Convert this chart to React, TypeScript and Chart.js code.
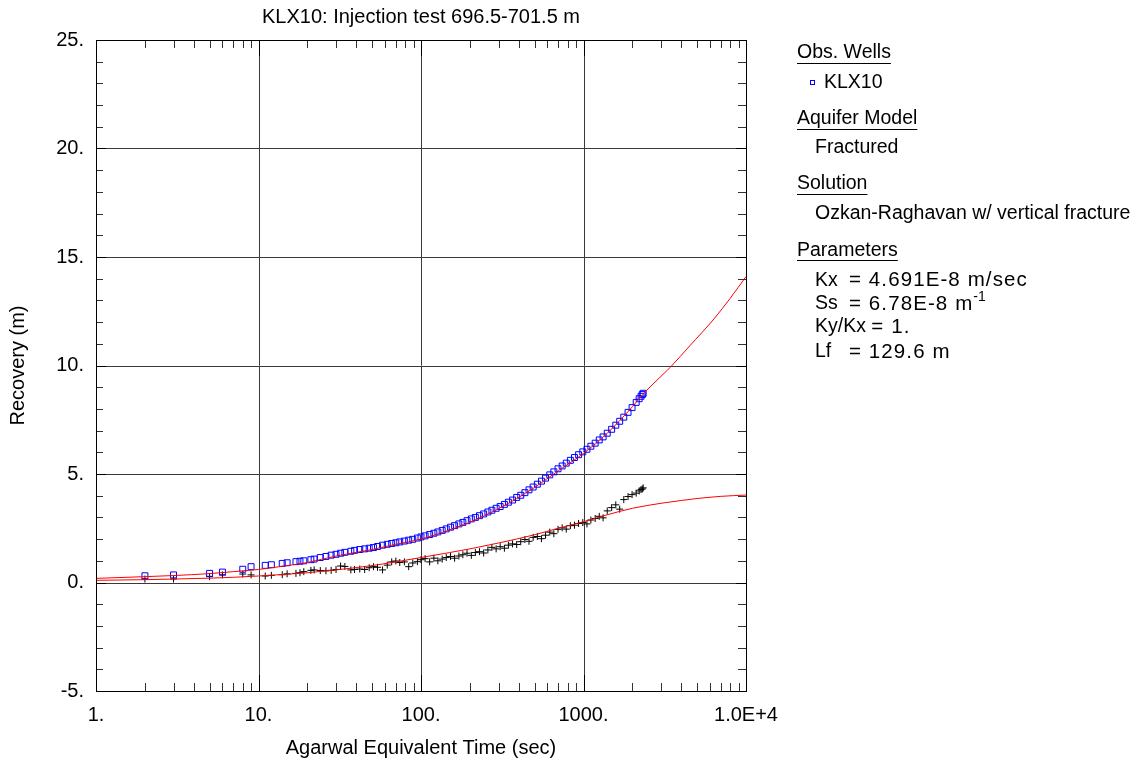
import React, { useEffect, useRef } from 'react';
import { Chart, registerables } from 'chart.js';

Chart.register(...registerables);

const FONT = '"Liberation Sans", Arial, sans-serif';

const TITLE = 'KLX10: Injection test 696.5-701.5 m';
const X_TITLE = 'Agarwal Equivalent Time (sec)';
const Y_TITLE = 'Recovery (m)';

const X_TICKS = [1, 10, 100, 1000, 10000];
const X_TICK_LABELS = ['1.', '10.', '100.', '1000.', '1.0E+4'];
const X_MINOR_MULTIPLIERS = [2, 3, 4, 5, 6, 7, 8, 9];
const Y_TICKS = [-5, 0, 5, 10, 15, 20, 25];
const Y_TICK_LABELS = ['-5.', '0.', '5.', '10.', '15.', '20.', '25.'];
const Y_MINOR_STEP = 1;

// observation times (sec)
const TIMES = [
  2, 3, 5, 6, 8, 9,
  11, 12, 14, 15, 17, 18, 19,
  21, 22, 24, 26, 28, 30, 32, 34, 37, 39,
  42, 45, 48, 51, 54, 58, 62, 66, 70, 74, 79, 84, 89, 95,
  100, 106, 113, 120, 127, 135, 143, 152, 161, 171, 181, 192,
  204, 216, 229, 243, 258, 273, 290, 307, 326, 345, 366, 388,
  411, 436, 462, 490, 520, 551, 584, 620, 657, 697, 739, 783, 830, 880, 933, 990,
  1050, 1110, 1180, 1250, 1320, 1400, 1490, 1580, 1670, 1770, 1880, 1990,
  2110, 2200, 2260, 2300, 2330,
];

// KLX10 recovery (m) - blue squares
const KLX10_VALUES = [
  0.31, 0.35, 0.42, 0.48, 0.61, 0.73,
  0.79, 0.82, 0.88, 0.91, 0.96, 0.98, 1.0,
  1.05, 1.08, 1.15, 1.2, 1.26, 1.3, 1.35, 1.39, 1.44, 1.48,
  1.52, 1.55, 1.58, 1.61, 1.66, 1.72, 1.76, 1.8, 1.83, 1.87, 1.91, 1.95, 1.99, 2.05,
  2.1, 2.15, 2.21, 2.27, 2.33, 2.4, 2.47, 2.55, 2.62, 2.7, 2.77, 2.85,
  2.93, 3.0, 3.08, 3.16, 3.25, 3.33, 3.42, 3.5, 3.6, 3.7, 3.8, 3.92,
  4.02, 4.14, 4.27, 4.4, 4.53, 4.67, 4.81, 4.96, 5.1, 5.24, 5.37, 5.5, 5.63, 5.76, 5.89, 6.02,
  6.14, 6.28, 6.42, 6.57, 6.71, 6.88, 7.06, 7.25, 7.43, 7.62, 7.84, 8.06,
  8.3, 8.47, 8.58, 8.66, 8.72,
];

// second recovery series (m) - black crosses
const SECOND_VALUES = [
  0.16, 0.16, 0.27, 0.35, 0.39, 0.35,
  0.3, 0.33, 0.36, 0.4, 0.42, 0.45, 0.5,
  0.56, 0.58, 0.55, 0.54, 0.56, 0.6, 0.76, 0.74, 0.58, 0.6,
  0.62, 0.6, 0.68, 0.73, 0.7, 0.58, 0.8, 0.95, 0.99, 0.92, 0.95, 0.73, 0.9, 0.96,
  1.05, 1.1, 0.95, 1.12, 1.0, 1.08, 1.15, 1.2, 1.12, 1.22, 1.28, 1.35,
  1.25, 1.38, 1.42, 1.36, 1.5, 1.62, 1.55, 1.65, 1.58, 1.72, 1.78, 1.75,
  1.88, 1.98, 1.9, 2.08, 2.12, 2.02, 2.18, 2.32, 2.25, 2.45, 2.52, 2.46, 2.62, 2.64, 2.72, 2.76,
  2.7, 2.88, 2.95, 3.05, 2.98, 3.3, 3.45, 3.58, 3.38, 3.82, 3.96, 4.05,
  4.12, 4.22, 4.28, 4.31, 4.36,
];

// fitted curves
const FIT_UPPER_TIMES = [1, 2, 3, 5, 7, 10, 15, 20, 30, 50, 70, 100, 150, 200, 300, 500, 700, 1000, 1400, 2000, 2355, 3133, 3443, 4500, 6357, 8000, 10000];
const FIT_UPPER_VALUES = [0.19, 0.27, 0.32, 0.41, 0.5, 0.6, 0.78, 0.92, 1.22, 1.52, 1.76, 2.0, 2.42, 2.78, 3.4, 4.38, 5.15, 5.95, 6.88, 8.1, 8.72, 9.64, 9.94, 10.9, 12.15, 13.1, 14.1];
const FIT_LOWER_TIMES = [1, 2, 3, 5, 7, 10, 15, 20, 30, 50, 70, 100, 150, 200, 300, 500, 700, 1000, 1400, 2000, 3000, 4000, 5000, 7000, 10000];
const FIT_LOWER_VALUES = [0.1, 0.13, 0.16, 0.2, 0.24, 0.3, 0.38, 0.45, 0.58, 0.78, 0.95, 1.15, 1.38, 1.55, 1.82, 2.2, 2.5, 2.8, 3.12, 3.42, 3.65, 3.78, 3.87, 3.97, 4.03];

const LEGEND_HEADINGS = ['Obs. Wells', 'Aquifer Model', 'Solution', 'Parameters'];
const LEGEND_WELL = 'KLX10';
const AQUIFER_MODEL = 'Fractured';
const SOLUTION = 'Ozkan-Raghavan w/ vertical fracture';
const PARAM_NAMES = ['Kx', 'Ss', 'Ky/Kx', 'Lf'];
const PARAM_VALUES = ['= 4.691E-8 m/sec', '= 6.78E-8 m', '= 1.', '= 129.6 m'];
const SS_SUPERSCRIPT = '-1';

const zip = (xs: number[], ys: number[]) => xs.map((x, i) => ({ x, y: ys[i] }));

const framePlugin = {
  id: 'frame',
  beforeDatasetsDraw(chart: any) {
    const { ctx, chartArea: a, scales } = chart;
    const xs = scales.x;
    const ys = scales.y;
    ctx.save();
    ctx.strokeStyle = '#3a3a3a';
    ctx.lineWidth = 1;
    ctx.beginPath();
    X_TICKS.slice(1, -1).forEach((v) => {
      const px = Math.round(xs.getPixelForValue(v)) + 0.5;
      ctx.moveTo(px, a.top);
      ctx.lineTo(px, a.bottom);
    });
    Y_TICKS.slice(1, -1).forEach((v) => {
      const py = Math.round(ys.getPixelForValue(v)) + 0.5;
      ctx.moveTo(a.left, py);
      ctx.lineTo(a.right, py);
    });
    ctx.stroke();
    ctx.restore();
  },
  afterDatasetsDraw(chart: any) {
    const { ctx, chartArea: a, scales } = chart;
    const xs = scales.x;
    const ys = scales.y;
    ctx.save();
    ctx.lineWidth = 1;
    ctx.strokeStyle = '#333';
    ctx.beginPath();
    X_TICKS.slice(0, -1).forEach((d) => {
      X_MINOR_MULTIPLIERS.forEach((m) => {
        const px = Math.round(xs.getPixelForValue(d * m)) + 0.5;
        ctx.moveTo(px, a.bottom);
        ctx.lineTo(px, a.bottom - 8);
        ctx.moveTo(px, a.top);
        ctx.lineTo(px, a.top + 8);
      });
    });
    for (let v = Y_TICKS[0]; v <= Y_TICKS[Y_TICKS.length - 1]; v += Y_MINOR_STEP) {
      if (Y_TICKS.includes(v)) continue;
      const py = Math.round(ys.getPixelForValue(v)) + 0.5;
      ctx.moveTo(a.left, py);
      ctx.lineTo(a.left + 7, py);
      ctx.moveTo(a.right, py);
      ctx.lineTo(a.right - 8, py);
    }
    ctx.stroke();
    ctx.strokeStyle = '#000';
    ctx.beginPath();
    X_TICKS.slice(1, -1).forEach((v) => {
      const px = Math.round(xs.getPixelForValue(v)) + 0.5;
      ctx.moveTo(px, a.bottom);
      ctx.lineTo(px, a.bottom - 16);
      ctx.moveTo(px, a.top);
      ctx.lineTo(px, a.top + 16);
    });
    Y_TICKS.slice(1, -1).forEach((v) => {
      const py = Math.round(ys.getPixelForValue(v)) + 0.5;
      ctx.moveTo(a.left, py);
      ctx.lineTo(a.left + 10, py);
      ctx.moveTo(a.right, py);
      ctx.lineTo(a.right - 10, py);
    });
    ctx.stroke();
    ctx.strokeStyle = '#000';
    ctx.strokeRect(Math.round(a.left) + 0.5, Math.round(a.top) + 0.5, Math.round(a.right - a.left), Math.round(a.bottom - a.top));
    ctx.restore();
  },
  afterDraw(chart: any) {
    const { ctx, chartArea: a } = chart;
    ctx.save();
    ctx.fillStyle = '#000';
    ctx.textBaseline = 'middle';
    ctx.textAlign = 'center';
    ctx.font = `20px ${FONT}`;
    ctx.fillText(TITLE, (a.left + a.right) / 2, 17);

    ctx.textAlign = 'left';
    ctx.font = `19.5px ${FONT}`;
    const hx = 797;
    const ix = 815;
    const heading = (t: string, y: number, uy: number) => {
      ctx.fillText(t, hx, y);
      const w = ctx.measureText(t).width;
      ctx.fillRect(hx, uy, w, 1);
    };
    heading(LEGEND_HEADINGS[0], 53, 63);
    ctx.strokeStyle = '#0000ff';
    ctx.lineWidth = 1;
    ctx.strokeRect(810.5, 80.5, 4, 4);
    ctx.fillText(LEGEND_WELL, 824, 83);
    heading(LEGEND_HEADINGS[1], 119, 129);
    ctx.fillText(AQUIFER_MODEL, ix, 147.5);
    heading(LEGEND_HEADINGS[2], 184, 194);
    ctx.fillText(SOLUTION, ix, 214);
    heading(LEGEND_HEADINGS[3], 250.5, 260);
    const rows = [280.5, 304, 327, 352];
    const spacing = '1.1px';
    PARAM_NAMES.forEach((n, i) => {
      ctx.font = `19.5px ${FONT}`;
      ctx.letterSpacing = '0px';
      ctx.fillText(n, ix, rows[i]);
      let vx = 849;
      if (i === 2) vx = ix + ctx.measureText(n + ' ').width;
      ctx.font = `20.5px ${FONT}`;
      ctx.letterSpacing = spacing;
      ctx.fillText(PARAM_VALUES[i], vx, rows[i]);
    });
    ctx.font = `20.5px ${FONT}`;
    ctx.letterSpacing = spacing;
    const sw = ctx.measureText(PARAM_VALUES[1]).width;
    ctx.letterSpacing = '0px';
    ctx.font = `14px ${FONT}`;
    ctx.fillText(SS_SUPERSCRIPT, 849 + sw, 297);
    ctx.restore();
  },
};

export default function App() {
  const ref = useRef<HTMLCanvasElement | null>(null);
  useEffect(() => {
    if (!ref.current) return;
    const tickFont = { size: 20, family: FONT };
    const chart = new Chart(ref.current, {
      type: 'scatter',
      data: {
        datasets: [
          {
            label: 'fit upper',
            data: zip(FIT_UPPER_TIMES, FIT_UPPER_VALUES),
            showLine: true,
            borderColor: '#ff0000',
            borderWidth: 1,
            pointRadius: 0,
            cubicInterpolationMode: 'monotone',
            order: 0,
          },
          {
            label: 'fit lower',
            data: zip(FIT_LOWER_TIMES, FIT_LOWER_VALUES),
            showLine: true,
            borderColor: '#ff0000',
            borderWidth: 1,
            pointRadius: 0,
            cubicInterpolationMode: 'monotone',
            order: 0,
          },
          {
            label: LEGEND_WELL,
            data: zip(TIMES, KLX10_VALUES),
            showLine: false,
            pointStyle: 'rect',
            pointRadius: 4.2,
            borderColor: '#0000ff',
            backgroundColor: 'rgba(0,0,0,0)',
            borderWidth: 1,
            order: 1,
          },
          {
            label: 'second',
            data: zip(TIMES, SECOND_VALUES),
            showLine: false,
            pointStyle: 'cross',
            pointRadius: 3.5,
            borderColor: '#000000',
            borderWidth: 1,
            order: 2,
          },
        ],
      } as any,
      options: {
        animation: false,
        responsive: false,
        devicePixelRatio: 1,
        events: [],
        layout: { padding: { left: 0, right: 389, top: 40, bottom: 0 } },
        plugins: {
          legend: { display: false },
          tooltip: { enabled: false },
          title: { display: false },
        },
        scales: {
          x: {
            type: 'logarithmic',
            min: X_TICKS[0],
            max: X_TICKS[X_TICKS.length - 1],
            afterBuildTicks: (s: any) => {
              s.ticks = X_TICKS.map((v) => ({ value: v }));
            },
            afterFit: (s: any) => {
              s.height = 74;
            },
            grid: { display: false, drawTicks: false },
            border: { display: false },
            ticks: {
              autoSkip: false,
              maxRotation: 0,
              minRotation: 0,
              padding: 12,
              color: '#000',
              font: tickFont,
              callback: (_v: any, i: number) => X_TICK_LABELS[i],
            },
            title: {
              display: true,
              text: X_TITLE,
              color: '#000',
              font: tickFont,
              padding: { top: 0, bottom: 5 },
            },
          },
          y: {
            type: 'linear',
            min: Y_TICKS[0],
            max: Y_TICKS[Y_TICKS.length - 1],
            afterBuildTicks: (s: any) => {
              s.ticks = Y_TICKS.map((v) => ({ value: v }));
            },
            afterFit: (s: any) => {
              s.width = 96;
            },
            grid: { display: false, drawTicks: false },
            border: { display: false },
            ticks: {
              autoSkip: false,
              padding: 12,
              color: '#000',
              font: tickFont,
              callback: (_v: any, i: number) => Y_TICK_LABELS[i],
            },
            title: {
              display: true,
              text: Y_TITLE,
              color: '#000',
              font: tickFont,
              padding: { top: 6, bottom: 0 },
            },
          },
        },
      } as any,
      plugins: [framePlugin],
    });
    return () => chart.destroy();
  }, []);

  return (
    <div style={{ position: 'absolute', left: 0, top: 0, width: 1135, height: 765, background: '#fff' }}>
      <canvas ref={ref} width={1135} height={765} style={{ width: 1135, height: 765, display: 'block' }} />
    </div>
  );
}
